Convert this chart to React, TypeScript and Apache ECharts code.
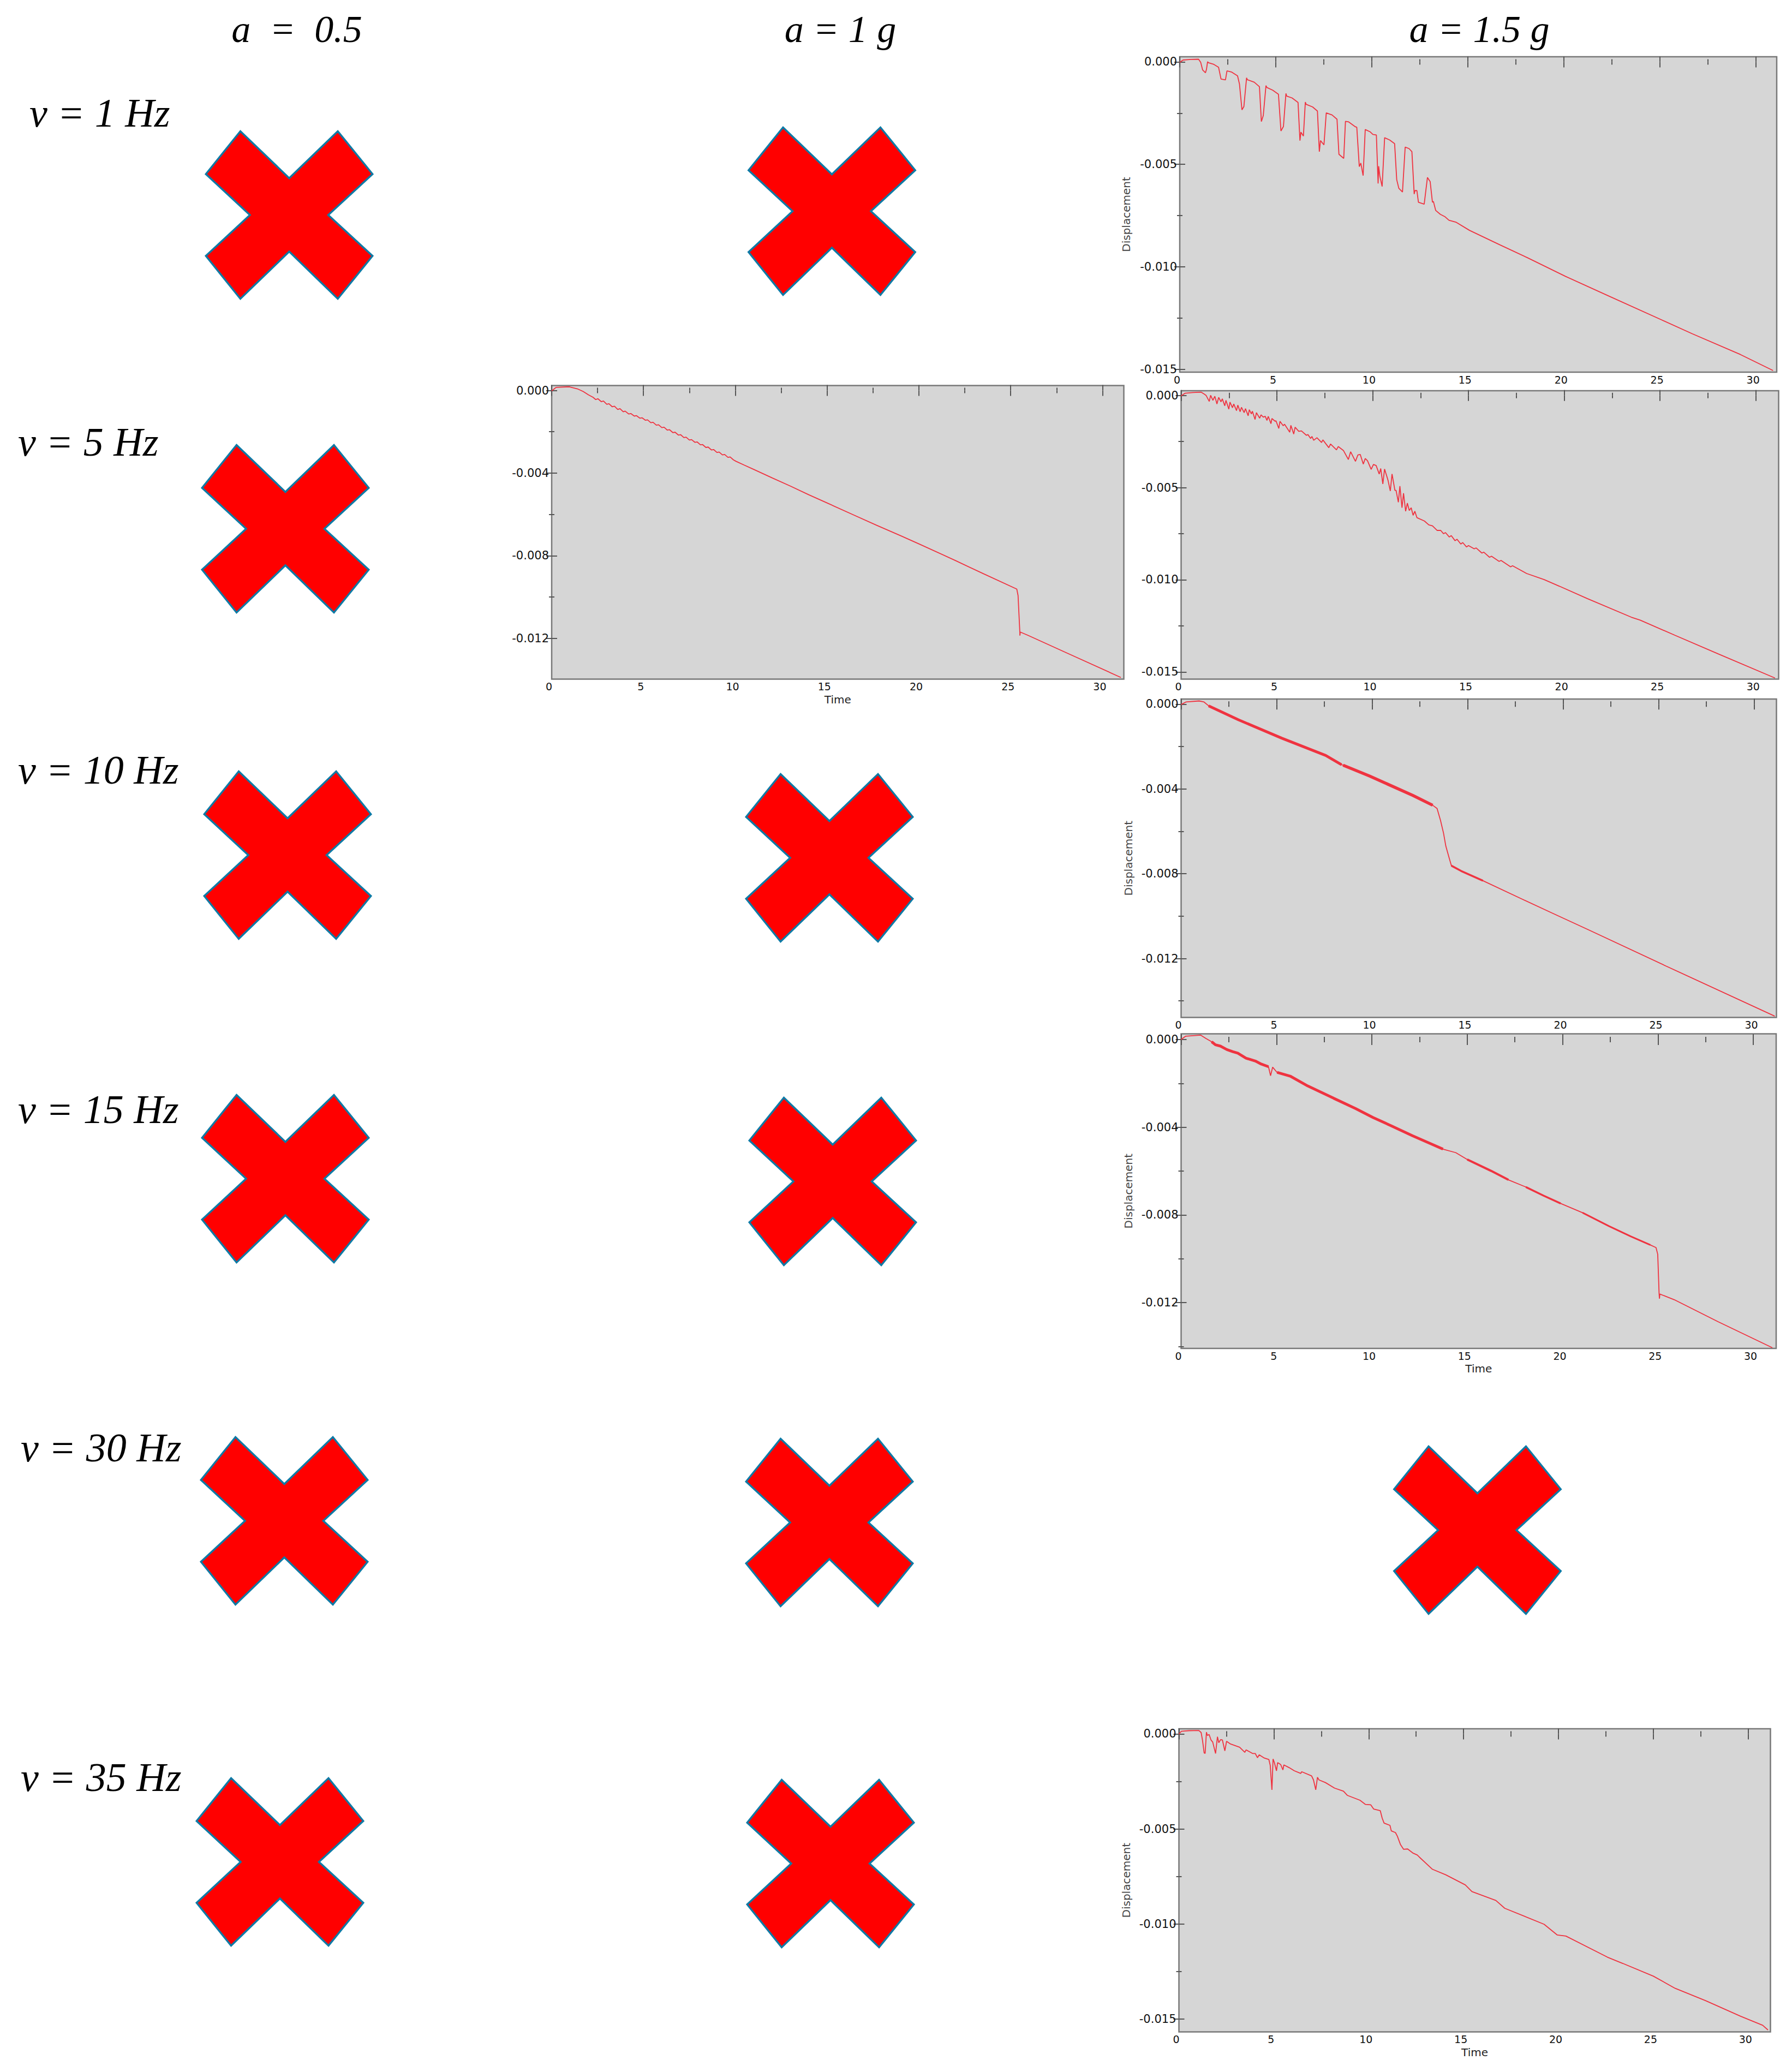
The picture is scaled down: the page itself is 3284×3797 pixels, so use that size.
import React, { useEffect, useRef } from "react";
import * as echarts from "echarts";

// ---- text ----
const colLabels = ["a  =  0.5", "a = 1 g", "a = 1.5 g"];
const rowLabels = ["v = 1 Hz", "v = 5 Hz", "v = 10 Hz", "v = 15 Hz", "v = 30 Hz", "v = 35 Hz"];
const xAxisName = "Time";
const yAxisName = "Displacement";

// ---- ticks ----
const xMajor = [0, 5, 10, 15, 20, 25, 30];
const xMinor = [2.5, 7.5, 12.5, 17.5, 22.5, 27.5];
const yMajor5 = [0, -0.005, -0.01, -0.015];
const yMinor5 = [-0.0025, -0.0075, -0.0125];
const yMajor4 = [0, -0.004, -0.008, -0.012];
const yMinor4 = [-0.002, -0.006, -0.01, -0.014];

// ---- series: [time, displacement] ----
const v1a15 = [[0,-0.00002],[0.17,0.00009],[0.58,0.00012],[0.98,0.00013],[1.09,-0.00002],[1.19,-0.00039],[1.34,-0.00053],[1.39,-0.00037],[1.45,0.00001],[1.49,-0.00004],[1.75,-0.00011],[2.02,-0.00026],[2.15,-0.00084],[2.38,-0.00088],[2.46,-0.00044],[2.71,-0.0005],[3.01,-0.00068],[3.11,-0.00108],[3.24,-0.00234],[3.34,-0.00218],[3.48,-0.00078],[3.52,-0.00087],[3.88,-0.00099],[4.15,-0.00121],[4.25,-0.00291],[4.35,-0.00262],[4.49,-0.00116],[4.54,-0.00125],[4.84,-0.00138],[5.14,-0.00158],[5.27,-0.00337],[5.4,-0.00315],[5.53,-0.00154],[5.57,-0.00167],[5.85,-0.00176],[6.16,-0.00198],[6.26,-0.00384],[6.31,-0.00343],[6.44,-0.00362],[6.54,-0.00196],[6.58,-0.00207],[6.92,-0.0022],[7.17,-0.0024],[7.27,-0.00438],[7.33,-0.00384],[7.51,-0.00405],[7.63,-0.00249],[7.93,-0.00259],[8.19,-0.0028],[8.29,-0.00451],[8.54,-0.00471],[8.63,-0.0029],[8.8,-0.00293],[9.15,-0.00317],[9.22,-0.00319],[9.35,-0.00511],[9.43,-0.00494],[9.55,-0.00555],[9.66,-0.0033],[9.91,-0.00341],[10.06,-0.00354],[10.24,-0.00357],[10.33,-0.00593],[10.36,-0.00509],[10.42,-0.00557],[10.54,-0.00608],[10.67,-0.0037],[10.93,-0.00381],[11.19,-0.00399],[11.3,-0.00575],[11.41,-0.00617],[11.6,-0.00635],[11.74,-0.00416],[11.94,-0.00423],[12.09,-0.00438],[12.21,-0.00645],[12.25,-0.00628],[12.35,-0.00628],[12.43,-0.00685],[12.73,-0.00694],[12.9,-0.00564],[13.04,-0.00584],[13.16,-0.00685],[13.21,-0.00681],[13.33,-0.00725],[13.57,-0.00744],[13.82,-0.00756],[14.02,-0.00773],[14.38,-0.00782],[15.09,-0.00822],[16.7,-0.00894],[18.07,-0.00954],[20.1,-0.01047],[22.4,-0.01145],[25.1,-0.01259],[26.7,-0.01327],[29.2,-0.01428],[30.9,-0.01506]];

const v5a1 = [[0,-0.00002],[0.24,0.00015],[0.96,0.00018],[1.4,0.00008],[1.72,-0.00005],[2,-0.00021],[2.25,-0.00033],[2.4,-0.00044],[2.52,-0.0004],[2.7,-0.00054],[2.82,-0.00051],[3,-0.00067],[3.12,-0.00064],[3.3,-0.00079],[3.42,-0.00076],[3.6,-0.00092],[3.72,-0.00088],[3.9,-0.00103],[4,-0.001],[4.2,-0.00114],[4.32,-0.00112],[4.5,-0.00124],[4.62,-0.00122],[4.8,-0.00134],[4.92,-0.00132],[5.1,-0.00144],[5.22,-0.00142],[5.4,-0.00156],[5.52,-0.00154],[5.7,-0.00168],[5.82,-0.00166],[6,-0.0018],[6.12,-0.00178],[6.3,-0.00192],[6.42,-0.0019],[6.6,-0.00204],[6.72,-0.00202],[6.9,-0.00216],[7.02,-0.00214],[7.2,-0.00228],[7.32,-0.00226],[7.5,-0.0024],[7.62,-0.00238],[7.8,-0.00251],[7.92,-0.00249],[8.1,-0.00263],[8.22,-0.00262],[8.4,-0.00276],[8.52,-0.00274],[8.7,-0.00288],[8.82,-0.00286],[9,-0.003],[9.12,-0.00298],[9.3,-0.00312],[9.42,-0.0031],[9.6,-0.00324],[9.72,-0.00322],[9.9,-0.00336],[10.04,-0.00343],[10.5,-0.00362],[11,-0.00382],[12,-0.00423],[13,-0.00463],[14,-0.00505],[15.03,-0.00546],[16.5,-0.00605],[17.7,-0.00653],[19,-0.00703],[20.03,-0.00744],[22,-0.00824],[23.5,-0.00887],[25.33,-0.00962],[25.4,-0.00993],[25.5,-0.01176],[25.5,-0.01187],[25.52,-0.0117],[25.94,-0.01186],[28.1,-0.01273],[31,-0.0139]];

const v5a15 = [[0,-0.00002],[0.2,0.00012],[0.6,0.00016],[1.05,0.00018],[1.2,0.00008],[1.3,0.00001],[1.47,-0.00032],[1.54,0.00001],[1.66,-0.00026],[1.76,-0.00004],[1.87,-0.00046],[1.96,-0.0001],[2.08,-0.00034],[2.15,-0.00018],[2.28,-0.00056],[2.34,-0.00026],[2.49,-0.00074],[2.55,-0.00036],[2.68,-0.00066],[2.75,-0.00046],[2.89,-0.00082],[2.96,-0.00052],[3.08,-0.00088],[3.15,-0.00064],[3.29,-0.00093],[3.36,-0.00071],[3.5,-0.0011],[3.56,-0.00077],[3.67,-0.001],[3.72,-0.00085],[3.86,-0.0013],[3.93,-0.00093],[4.1,-0.00123],[4.17,-0.00105],[4.29,-0.00117],[4.39,-0.00113],[4.48,-0.00135],[4.55,-0.00113],[4.69,-0.00153],[4.74,-0.00125],[4.91,-0.0014],[4.95,-0.00137],[5.1,-0.00179],[5.16,-0.0014],[5.33,-0.00164],[5.4,-0.00156],[5.67,-0.00199],[5.73,-0.00162],[5.88,-0.00209],[5.95,-0.00172],[6.14,-0.00194],[6.28,-0.00192],[6.54,-0.00216],[6.62,-0.00212],[6.76,-0.00233],[6.83,-0.00222],[6.92,-0.00243],[7.09,-0.00229],[7.33,-0.00255],[7.4,-0.00241],[7.71,-0.00283],[7.8,-0.00263],[8.11,-0.00295],[8.2,-0.00277],[8.47,-0.00298],[8.73,-0.00347],[8.85,-0.00305],[9.1,-0.00357],[9.23,-0.00322],[9.35,-0.0032],[9.51,-0.00372],[9.61,-0.00342],[9.73,-0.00354],[9.92,-0.00401],[10.04,-0.00374],[10.18,-0.0038],[10.34,-0.00426],[10.42,-0.00396],[10.53,-0.0048],[10.62,-0.00399],[10.8,-0.0046],[10.92,-0.00518],[11.01,-0.00426],[11.16,-0.00515],[11.22,-0.00515],[11.34,-0.00579],[11.42,-0.00492],[11.53,-0.00609],[11.61,-0.0053],[11.72,-0.00628],[11.81,-0.00584],[11.91,-0.00624],[12.01,-0.00609],[12.11,-0.0065],[12.2,-0.00628],[12.31,-0.00663],[12.7,-0.00681],[12.93,-0.00702],[13.12,-0.00707],[13.36,-0.00732],[13.55,-0.00732],[13.7,-0.0075],[13.8,-0.00744],[14,-0.00768],[14.1,-0.0076],[14.3,-0.00788],[14.4,-0.0078],[14.6,-0.00806],[14.7,-0.00798],[14.9,-0.00822],[15,-0.00814],[15.3,-0.00832],[15.4,-0.00827],[15.7,-0.00855],[15.8,-0.0085],[16.1,-0.00878],[16.2,-0.00872],[16.6,-0.009],[16.7,-0.00895],[17.2,-0.0093],[17.3,-0.00924],[18.04,-0.00966],[18.95,-0.00999],[19.75,-0.01035],[21.2,-0.01102],[23.5,-0.01203],[23.96,-0.01219],[25.8,-0.01302],[28.06,-0.01403],[31,-0.01533]];

const v10a15 = [[0,-0.00002],[0.25,0.0001],[0.94,0.00015],[1.2,0.0001],[1.44,-0.00008],[3,-0.00074],[5.28,-0.00161],[7.57,-0.00242],[8.4,-0.00286],[8.48,-0.00288],[9.86,-0.00339],[12.14,-0.00431],[13.17,-0.00477],[13.4,-0.00492],[13.58,-0.00548],[13.74,-0.00609],[13.86,-0.0067],[14.02,-0.00721],[14.15,-0.00762],[14.66,-0.00787],[15.8,-0.00833],[17.86,-0.0092],[19.46,-0.00987],[21.29,-0.01063],[25.4,-0.01236],[31.08,-0.01472]];

const v15a15 = [[0,0],[0.23,0.00015],[1.03,0.0002],[1.3,0.00005],[1.6,-0.0001],[1.8,-0.00024],[2.06,-0.0003],[2.4,-0.00046],[2.7,-0.00055],[2.97,-0.00062],[3.4,-0.00085],[3.89,-0.00098],[4.2,-0.00112],[4.58,-0.00124],[4.69,-0.00165],[4.8,-0.00126],[5.03,-0.0015],[5.72,-0.00167],[6.64,-0.00212],[8,-0.00268],[9.15,-0.00315],[10.07,-0.00356],[10.98,-0.00392],[12.13,-0.00439],[13.73,-0.005],[14.4,-0.00516],[15,-0.00547],[16.25,-0.00599],[17.16,-0.0064],[18.08,-0.00673],[19,-0.00712],[19.9,-0.00748],[21.05,-0.0079],[22.43,-0.00851],[23.57,-0.00898],[24.6,-0.00937],[24.9,-0.00949],[24.99,-0.0098],[25.06,-0.01156],[25.08,-0.01182],[25.1,-0.01161],[25.86,-0.01187],[28.15,-0.01287],[31,-0.01406]];

const v35a15 = [[0,-0.00001],[0.13,0.00014],[0.52,0.00017],[1.05,0.00018],[1.17,0.00007],[1.24,-0.00032],[1.33,-0.001],[1.38,-0.00103],[1.45,0.00009],[1.5,-0.00008],[1.59,-0.00003],[1.69,-0.00032],[1.78,-0.00043],[1.93,-0.00103],[2.03,-0.00015],[2.1,-0.00046],[2.2,-0.0003],[2.29,-0.00032],[2.42,-0.00089],[2.51,-0.00039],[2.72,-0.00053],[3.2,-0.0007],[3.47,-0.00097],[3.54,-0.00084],[3.88,-0.00103],[4.02,-0.00103],[4.14,-0.00125],[4.23,-0.0011],[4.5,-0.00127],[4.74,-0.00135],[4.81,-0.00165],[4.9,-0.00294],[4.96,-0.00132],[5.03,-0.00151],[5.14,-0.00194],[5.2,-0.00151],[5.36,-0.00161],[5.48,-0.00189],[5.53,-0.00163],[5.8,-0.00177],[6.08,-0.00194],[6.42,-0.00208],[6.47,-0.00199],[6.99,-0.00221],[7.09,-0.00242],[7.21,-0.00294],[7.3,-0.00228],[7.38,-0.00242],[7.72,-0.00256],[8.2,-0.00285],[8.67,-0.00301],[8.87,-0.00323],[9.54,-0.00349],[9.83,-0.00371],[10.11,-0.00373],[10.26,-0.00395],[10.61,-0.00404],[10.71,-0.00443],[10.81,-0.00469],[11.12,-0.00481],[11.19,-0.0051],[11.41,-0.00519],[11.51,-0.00538],[11.67,-0.00581],[11.84,-0.00607],[12.05,-0.00605],[12.32,-0.00626],[12.56,-0.00637],[12.67,-0.00648],[13.36,-0.00712],[14.06,-0.00741],[15.09,-0.00794],[15.44,-0.00829],[16.7,-0.00876],[17.17,-0.00917],[19.24,-0.01001],[19.93,-0.01057],[20.39,-0.01063],[22.58,-0.01174],[23.39,-0.01207],[25,-0.01274],[26.15,-0.01338],[27.76,-0.01403],[29.6,-0.01485],[30.76,-0.01532],[31.04,-0.01557]];

// ---- layout and styles ----
const WIDTH = 3284;
const HEIGHT = 3797;
const LINE = "#ef3340";
const PLOT_BG = "#d6d6d6";
const FRAME = "#787878";
const TICK = "#555555";
const LABEL_FONT = "DejaVu Sans";
const SERIF = "'Liberation Serif'";

const panels = [
  { data: v1a15,  left: 2162, top: 104,  right: 3256, bottom: 682,  xMax: 31.09, yMax: 0.00025, yMin: -0.01514, yMajor: yMajor5, yMinor: yMinor5, xName: false, yName: true,  nameGap: 88, bands: [] },
  { data: v5a1,   left: 1011, top: 706.5, right: 2059.5, bottom: 1244.5, xMax: 31.16, yMax: 0.00024, yMin: -0.01398, yMajor: yMajor4, yMinor: yMinor4, xName: true,  yName: false, nameGap: 88, bands: [] },
  { data: v5a15,  left: 2164.5, top: 716, right: 3259.5, bottom: 1244.5, xMax: 31.19, yMax: 0.00026, yMin: -0.01539, yMajor: yMajor5, yMinor: yMinor5, xName: false, yName: false, nameGap: 88, bands: [] },
  { data: v10a15, left: 2164.5, top: 1281, right: 3255.5, bottom: 1864.5, xMax: 31.17, yMax: 0.00024, yMin: -0.01478, yMajor: yMajor4, yMinor: yMinor4, xName: false, yName: true,  nameGap: 87, bands: [[1.44, 8.4, 5], [8.48, 13.17, 5.5], [14.15, 15.8, 3.5]] },
  { data: v15a15, left: 2164.5, top: 1894.5, right: 3255, bottom: 2471, xMax: 31.2, yMax: 0.00026, yMin: -0.01409, yMajor: yMajor4, yMinor: yMinor4, xName: true,  yName: true,  nameGap: 87, bands: [[1.6, 4.58, 5], [5.03, 13.73, 5], [15, 17.16, 4], [18.08, 19.9, 3.5], [21.05, 24.6, 3]] },
  { data: v35a15, left: 2160.5, top: 3168, right: 3244.5, bottom: 3723.5, xMax: 31.17, yMax: 0.00027, yMin: -0.01567, yMajor: yMajor5, yMinor: yMinor5, xName: true,  yName: true,  nameGap: 87, bands: [] },
];

const colPositions = [[544, 77], [1540, 77], [2711, 77]];
const rowPositions = [[54, 232], [33, 834.5], [33, 1435.5], [33, 2058], [38, 2678], [38, 3282]];
const crossCentres = [
  [530, 394], [1524.5, 387], [523, 969], [527, 1567], [1520, 1572], [523, 2160],
  [1526, 2165], [521, 2787], [1520, 2790], [2707.5, 2804], [513, 3412], [1522, 3415],
];
const crossShape = [
  [-89.5, -153.5], [0, -67.5], [89, -153.5], [152.7, -75], [71.5, 0], [152.7, 75],
  [89, 153.5], [0, 67], [-89.5, 153.5], [-152.7, 75], [-72, 0], [-152.7, -75],
];

function buildOption() {
  const grid: any[] = [];
  const xAxis: any[] = [];
  const yAxis: any[] = [];
  const series: any[] = [];

  panels.forEach((p, i) => {
    grid.push({
      show: true,
      left: p.left,
      top: p.top,
      width: p.right - p.left,
      height: p.bottom - p.top,
      backgroundColor: PLOT_BG,
      borderColor: FRAME,
      borderWidth: 2.5,
      containLabel: false,
    });
    const xBase = { type: "value", gridIndex: i, min: 0, max: p.xMax, splitLine: { show: false }, axisLine: { show: false } };
    const yBase = { type: "value", gridIndex: i, min: p.yMin, max: p.yMax, splitLine: { show: false }, axisLine: { show: false } };
    const tick = (vals: number[], length: number) => ({
      show: true, inside: true, length, customValues: vals, lineStyle: { color: TICK, width: 2 },
    });
    const firstX = xAxis.length;
    const firstY = yAxis.length;
    xAxis.push({
      ...xBase,
      position: "bottom",
      axisTick: tick(xMajor, 10),
      axisLabel: {
        show: true, customValues: xMajor, margin: 4, padding: [0, 10, 0, 0],
        fontFamily: LABEL_FONT, fontSize: 19, color: "#111111",
        formatter: (v: number) => String(v),
      },
      ...(p.xName
        ? { name: xAxisName, nameLocation: "middle", nameGap: 27, nameTextStyle: { fontFamily: LABEL_FONT, fontSize: 20, color: "#222222" } }
        : {}),
    });
    xAxis.push({ ...xBase, position: "bottom", axisTick: tick(xMinor, 5), axisLabel: { show: false } });
    xAxis.push({ ...xBase, position: "top", axisTick: tick(xMajor, 10), axisLabel: { show: false } });
    xAxis.push({ ...xBase, position: "top", axisTick: tick(xMinor, 5), axisLabel: { show: false } });

    yAxis.push({
      ...yBase,
      position: "left",
      axisTick: tick(p.yMajor, 10),
      axisLabel: {
        show: true, customValues: p.yMajor, margin: 5,
        fontFamily: LABEL_FONT, fontSize: 21, color: "#111111",
        formatter: (v: number) => v.toFixed(3),
      },
      ...(p.yName
        ? { name: yAxisName, nameLocation: "middle", nameGap: p.nameGap, nameRotate: 90, nameTextStyle: { fontFamily: LABEL_FONT, fontSize: 20, color: "#444444" } }
        : {}),
    });
    yAxis.push({ ...yBase, position: "left", axisTick: tick(p.yMinor, 5), axisLabel: { show: false } });
    yAxis.push({ ...yBase, position: "right", axisTick: tick(p.yMajor, 10), axisLabel: { show: false } });
    yAxis.push({ ...yBase, position: "right", axisTick: tick(p.yMinor, 5), axisLabel: { show: false } });

    series.push({
      type: "line",
      xAxisIndex: firstX,
      yAxisIndex: firstY,
      data: p.data,
      showSymbol: false,
      symbol: "none",
      silent: true,
      lineStyle: { color: LINE, width: 1.8 },
    });
    (p.bands as number[][]).forEach(([from, to, width]) => {
      series.push({
        type: "line",
        xAxisIndex: firstX,
        yAxisIndex: firstY,
        data: p.data.filter((d) => d[0] >= from && d[0] <= to),
        showSymbol: false,
        symbol: "none",
        silent: true,
        lineStyle: { color: LINE, width },
      });
    });
  });

  const elements: any[] = [];
  crossCentres.forEach(([x, y]) => {
    elements.push({
      type: "polygon",
      x,
      y,
      shape: { points: crossShape },
      style: { fill: "#ff0000", stroke: "#0f7aa5", lineWidth: 3.5 },
      silent: true,
    });
  });
  colLabels.forEach((text, i) => {
    elements.push({
      type: "text",
      x: colPositions[i][0],
      y: colPositions[i][1] - 24,
      style: { text, font: `italic 70px ${SERIF}`, fill: "#000000", textAlign: "center", textVerticalAlign: "middle" },
      silent: true,
    });
  });
  rowLabels.forEach((text, i) => {
    elements.push({
      type: "text",
      x: rowPositions[i][0],
      y: rowPositions[i][1] - 25,
      style: { text, font: `italic 74px ${SERIF}`, fill: "#000000", textAlign: "left", textVerticalAlign: "middle" },
      silent: true,
    });
  });

  return { animation: false, grid, xAxis, yAxis, series, graphic: { elements } };
}

export default function App() {
  const ref = useRef<HTMLDivElement>(null);
  useEffect(() => {
    const chart = echarts.init(ref.current!, null, { renderer: "svg", width: WIDTH, height: HEIGHT });
    chart.setOption(buildOption() as any);
    return () => chart.dispose();
  }, []);
  return (
    <div
      ref={ref}
      style={{ position: "absolute", left: 0, top: 0, width: WIDTH, height: HEIGHT, background: "#ffffff" }}
    />
  );
}
